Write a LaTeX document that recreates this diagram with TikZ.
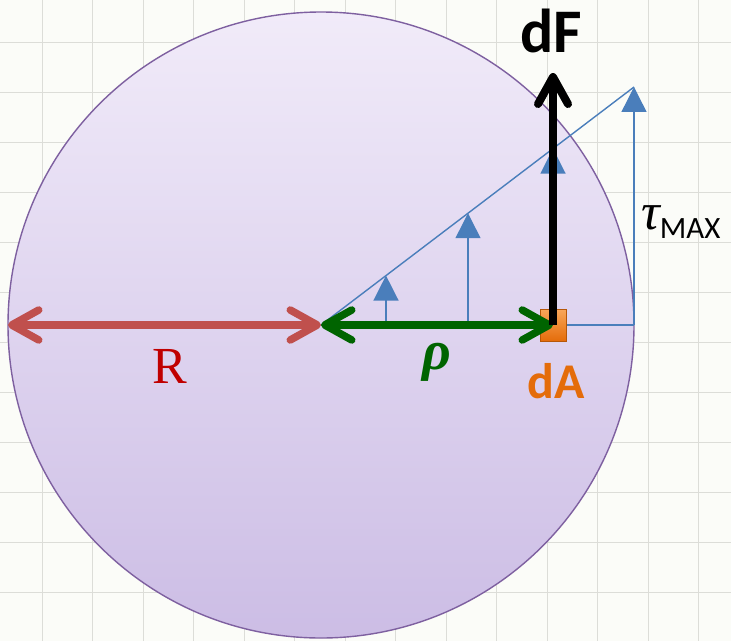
\documentclass[tikz,border=0pt]{standalone}
\usepackage{fontspec}
\newfontfamily\calibri{Carlito}
\newfontfamily\cambria{Liberation Serif}
\usetikzlibrary{arrows.meta,positioning,calc}

\definecolor{paper}{HTML}{FBFCF8}
\definecolor{gridgray}{HTML}{DCDDD8}
\definecolor{rimpurple}{HTML}{7E60A0}
\definecolor{fillhi}{HTML}{F1EBF9}
\definecolor{filllo}{HTML}{CCBDE5}
\definecolor{radred}{HTML}{C0504D}
\definecolor{textred}{HTML}{C00000}
\definecolor{rhogreen}{HTML}{006400}
\definecolor{stressblue}{HTML}{4A7EBB}
\definecolor{elemorange}{HTML}{E46C0A}
\definecolor{elemlight}{HTML}{F9A75A}
\definecolor{elemdark}{HTML}{B65708}

\begin{document}
\begin{tikzpicture}[x=1pt, y=-1pt,
  gridline/.style={gridgray, line width=0.8pt},
  section/.style={draw=rimpurple, line width=1.4pt, top color=fillhi, bottom color=filllo},
  dimarrow/.style={{Straight Barb[length=27pt, width=30pt, round]}-{Straight Barb[length=27pt, width=30pt, round]}, line width=7.5pt},
  forcearrow/.style={-{Straight Barb[length=27pt, width=30pt, round]}, line width=8pt, black},
  stressline/.style={stressblue, line width=1.4pt},
  stressarrow/.style={stressblue, line width=1.4pt, -{Triangle[length=25pt, width=25pt]}},
  element/.style={draw=elemdark, line width=0.8pt, top color=elemlight, bottom color=elemorange, minimum width=26pt, minimum height=32pt, inner sep=0pt},
  boldlabel/.style={font=\calibri\bfseries\fontsize{62}{66}\selectfont},
]

\useasboundingbox (0,0) rectangle (731,641);

% === Background grid ===
\fill[paper] (0,0) rectangle (731,641);
\foreach \gx in {0,...,13} \draw[gridline] ({42+50.5*\gx},0) -- ++(0,641);
\foreach \gy in {0,...,12} \draw[gridline] (0,{42+50*\gy}) -- ++(731,0);

% === Cross-section ===
\coordinate (O) at (321,325);
\coordinate (L) at (8,325);
\coordinate (E) at (634,325);
\coordinate (T) at (634,87);
\draw[section] (O) circle[radius=313pt];

% === Shear stress profile ===
\draw[stressline] (O) -- (E);
\draw[stressline] (O) -- (T);
\foreach \px in {386,468,553,634}
  \draw[stressarrow] (\px,325) -- (\px,{325-0.7604*(\px-321)});

% === Element, radius, force ===
\node[element] (dA) at (553,325) {};
\coordinate (Ftip) at (553,73);

\draw[dimarrow, radred] (L) -- (O);
\draw[dimarrow, rhogreen] (O) -- (dA.center);
\draw[forcearrow] (dA.center) -- (Ftip);

% === Labels ===
\node[font=\cambria\fontsize{52}{56}\selectfont, textred] (Rlbl) at (170,366) {R};
\node[font=\cambria\bfseries\itshape\fontsize{56}{60}\selectfont, rhogreen] (rholbl) at (437,362) {ρ};
\node[font=\calibri\bfseries\fontsize{50}{54}\selectfont, elemorange] (dAlbl) at (556,381) {dA};
\node[boldlabel] (dFlbl) at (551,31) {dF};
\node[anchor=west, inner sep=0pt] (taulbl) at (641,222)
  {\cambria\itshape\fontsize{52}{56}\selectfont τ\raisebox{-9pt}{\upshape\fontsize{31}{33}\selectfont\calibri MAX}};

\end{tikzpicture}
\end{document}
